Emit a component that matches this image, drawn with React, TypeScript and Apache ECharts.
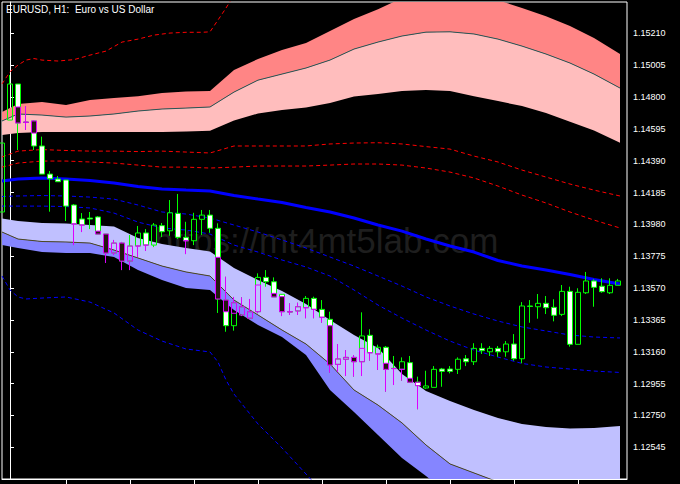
import React, { useEffect, useRef } from 'react';
import * as echarts from 'echarts';

// ---- Price axis ----
const PRICE_TICKS = [1.15210, 1.15005, 1.14800, 1.14595, 1.14390, 1.14185, 1.13980, 1.13775, 1.13570, 1.13365, 1.13160, 1.12955, 1.12750, 1.12545];
const Y_MIN = 1.12341;
const Y_MAX = 1.15412;
// bar index positions (bar -1 is the partially visible one at the left edge)
const X_MIN = -1;
const X_MAX = 77.125;
const TIME_TICKS = [7, 15, 23, 31, 39, 47, 55, 63, 71];

// ---- Candles (bar index = i - 1) ----
const OPEN = [1.14060, 1.14652, 1.14884, 1.14639, 1.14646, 1.14485, 1.14304, 1.14272, 1.14266, 1.14105, 1.14015, 1.14021, 1.14028, 1.13918, 1.13796, 1.13860, 1.13744, 1.13841, 1.13925, 1.13847, 1.13972, 1.13939, 1.14051, 1.13897, 1.13875, 1.14013, 1.14040, 1.13955, 1.13493, 1.13328, 1.13397, 1.13376, 1.13418, 1.13639, 1.13611, 1.13530, 1.13418, 1.13423, 1.13444, 1.13504, 1.13433, 1.13369, 1.13079, 1.13112, 1.13124, 1.13096, 1.13266, 1.13146, 1.13189, 1.13054, 1.13047, 1.13090, 1.12964, 1.12927, 1.12931, 1.13049, 1.13049, 1.13047, 1.13115, 1.13096, 1.13182, 1.13160, 1.13182, 1.13160, 1.13210, 1.13115, 1.13455, 1.13450, 1.13472, 1.13446, 1.13401, 1.13549, 1.13208, 1.13540, 1.13616, 1.13582, 1.13540, 1.13588];
const CLOSE = [1.14504, 1.14884, 1.14633, 1.14637, 1.14485, 1.14304, 1.14274, 1.14255, 1.14098, 1.13983, 1.13976, 1.14015, 1.13918, 1.13796, 1.13860, 1.13744, 1.13841, 1.13925, 1.13847, 1.13976, 1.13933, 1.14055, 1.13897, 1.13875, 1.14013, 1.14040, 1.13955, 1.13500, 1.13328, 1.13476, 1.13450, 1.13418, 1.13639, 1.13611, 1.13513, 1.13418, 1.13416, 1.13450, 1.13504, 1.13433, 1.13382, 1.13075, 1.13114, 1.13124, 1.13096, 1.13262, 1.13154, 1.13189, 1.13047, 1.13052, 1.13096, 1.12964, 1.12942, 1.12940, 1.13047, 1.13034, 1.13034, 1.13112, 1.13096, 1.13182, 1.13167, 1.13182, 1.13160, 1.13210, 1.13115, 1.13455, 1.13452, 1.13472, 1.13444, 1.13395, 1.13549, 1.13208, 1.13543, 1.13616, 1.13575, 1.13547, 1.13588, 1.13616];
const LOW = [1.14060, 1.14652, 1.14459, 1.14588, 1.14459, 1.14304, 1.14062, 1.14253, 1.14002, 1.13847, 1.13931, 1.13950, 1.13918, 1.13732, 1.13783, 1.13686, 1.13686, 1.13770, 1.13809, 1.13834, 1.13899, 1.13907, 1.13886, 1.13789, 1.13847, 1.13912, 1.13926, 1.13410, 1.13289, 1.13296, 1.13390, 1.13369, 1.13408, 1.13579, 1.13513, 1.13390, 1.13397, 1.13397, 1.13376, 1.13376, 1.13347, 1.13025, 1.13030, 1.13004, 1.13000, 1.13004, 1.13103, 1.13043, 1.12903, 1.12946, 1.12974, 1.12964, 1.12790, 1.12922, 1.12931, 1.12935, 1.13021, 1.13017, 1.13068, 1.13075, 1.13146, 1.13133, 1.13128, 1.13128, 1.13103, 1.13086, 1.13347, 1.13373, 1.13403, 1.13356, 1.13390, 1.13193, 1.13208, 1.13532, 1.13450, 1.13540, 1.13532, 1.13588];
const HIGH = [1.14504, 1.14942, 1.14884, 1.14742, 1.14652, 1.14545, 1.14324, 1.14292, 1.14266, 1.14111, 1.14053, 1.14060, 1.14034, 1.13918, 1.13880, 1.13867, 1.13912, 1.13970, 1.13950, 1.13989, 1.13989, 1.14137, 1.14176, 1.13997, 1.14055, 1.14073, 1.14073, 1.13987, 1.13643, 1.13513, 1.13511, 1.13500, 1.13665, 1.13686, 1.13639, 1.13532, 1.13472, 1.13476, 1.13519, 1.13515, 1.13493, 1.13418, 1.13210, 1.13171, 1.13139, 1.13414, 1.13305, 1.13206, 1.13197, 1.13133, 1.13124, 1.13133, 1.13000, 1.13038, 1.13068, 1.13056, 1.13068, 1.13124, 1.13139, 1.13215, 1.13215, 1.13197, 1.13197, 1.13229, 1.13274, 1.13480, 1.13493, 1.13532, 1.13519, 1.13498, 1.13590, 1.13579, 1.13569, 1.13674, 1.13627, 1.13633, 1.13633, 1.13629];

// Magenta painted parts: [bar, open, close, low, high]
const MAGENTA_BARS = [
  [1, 1.14736, 1.14633, 1.14633, 1.14736],
  [2, 1.14639, 1.14637, 1.14588, 1.14742],
  [3, 1.14646, 1.14568, 1.14568, 1.14652],
  [8, 1.13983, 1.13983, 1.13847, 1.13983],
  [9, 1.13976, 1.13976, 1.13931, 1.13976],
  [11, 1.13937, 1.13918, 1.13918, 1.13937],
  [12, 1.13918, 1.13796, 1.13732, 1.13918],
  [13, 1.13796, 1.13860, 1.13783, 1.13880],
  [14, 1.13860, 1.13744, 1.13686, 1.13867],
  [15, 1.13744, 1.13841, 1.13686, 1.13841],
  [16, 1.13841, 1.13841, 1.13770, 1.13841],
  [17, 1.13847, 1.13847, 1.13809, 1.13847],
  [22, 1.13875, 1.13875, 1.13789, 1.13875],
  [26, 1.13768, 1.13500, 1.13500, 1.13768],
  [27, 1.13493, 1.13418, 1.13418, 1.13643],
  [28, 1.13408, 1.13476, 1.13408, 1.13513],
  [29, 1.13397, 1.13450, 1.13390, 1.13511],
  [30, 1.13376, 1.13418, 1.13369, 1.13500],
  [31, 1.13418, 1.13590, 1.13408, 1.13590],
  [33, 1.13536, 1.13513, 1.13513, 1.13536],
  [34, 1.13515, 1.13418, 1.13390, 1.13515],
  [35, 1.13418, 1.13416, 1.13397, 1.13472],
  [36, 1.13423, 1.13450, 1.13397, 1.13476],
  [37, 1.13444, 1.13444, 1.13376, 1.13444],
  [38, 1.13433, 1.13433, 1.13376, 1.13433],
  [39, 1.13382, 1.13382, 1.13347, 1.13382],
  [40, 1.13328, 1.13075, 1.13025, 1.13328],
  [41, 1.13079, 1.13114, 1.13030, 1.13210],
  [42, 1.13112, 1.13124, 1.13004, 1.13171],
  [43, 1.13124, 1.13096, 1.13000, 1.13139],
  [44, 1.13096, 1.13182, 1.13004, 1.13182],
  [45, 1.13154, 1.13154, 1.13103, 1.13154],
  [46, 1.13146, 1.13146, 1.13043, 1.13146],
  [47, 1.13086, 1.13047, 1.12903, 1.13086],
  [48, 1.13052, 1.13052, 1.12946, 1.13052],
  [49, 1.13047, 1.13047, 1.12974, 1.13047],
  [50, 1.12989, 1.12964, 1.12964, 1.12989],
  [51, 1.12942, 1.12964, 1.12790, 1.12964],
];

// ---- Indicator curves sampled at these bar positions ----
const BAND_K = [-1, 1, 4, 7, 10, 13, 16, 19, 22, 25, 28, 31, 34, 37, 40, 43, 46, 49, 52, 55, 58, 61, 64, 67, 70, 73, 76.25];
const UPPER_OUTER = [1.14703, 1.14755, 1.14768, 1.14749, 1.14781, 1.14794, 1.14806, 1.14826, 1.14835, 1.14839, 1.14974, 1.15045, 1.15103, 1.15148, 1.15225, 1.15302, 1.15366, 1.15437, 1.15476, 1.15489, 1.15476, 1.15424, 1.15373, 1.15321, 1.15257, 1.15180, 1.15077];
const UPPER_MID = [1.14646, 1.14691, 1.14684, 1.14671, 1.14678, 1.14691, 1.14710, 1.14723, 1.14729, 1.14736, 1.14832, 1.14909, 1.14948, 1.14987, 1.15038, 1.15109, 1.15154, 1.15193, 1.15218, 1.15220, 1.15206, 1.15173, 1.15128, 1.15077, 1.15019, 1.14948, 1.14858];
const UPPER_INNER = [1.14555, 1.14568, 1.14575, 1.14575, 1.14575, 1.14575, 1.14575, 1.14575, 1.14578, 1.14583, 1.14649, 1.14694, 1.14716, 1.14732, 1.14761, 1.14803, 1.14819, 1.14839, 1.14845, 1.14839, 1.14806, 1.14774, 1.14742, 1.14697, 1.14641, 1.14584, 1.14506];
const LOWER_INNER = [1.14018, 1.14002, 1.13989, 1.13986, 1.13976, 1.13966, 1.13892, 1.13854, 1.13828, 1.13806, 1.13699, 1.13622, 1.13551, 1.13468, 1.13365, 1.13268, 1.13184, 1.13017, 1.12908, 1.12843, 1.12785, 1.12734, 1.12695, 1.12676, 1.12666, 1.12669, 1.12682];
const LOWER_MID = [1.13931, 1.13886, 1.13870, 1.13867, 1.13860, 1.13815, 1.13764, 1.13712, 1.13674, 1.13648, 1.13493, 1.13397, 1.13300, 1.13210, 1.13081, 1.12914, 1.12817, 1.12702, 1.12560, 1.12438, 1.12380, 1.12322, 1.12206, 1.12077, 1.11981, 1.11916, 1.11884];
const LOWER_OUTER = [1.13847, 1.13828, 1.13802, 1.13796, 1.13796, 1.13770, 1.13686, 1.13622, 1.13571, 1.13558, 1.13429, 1.13332, 1.13255, 1.13139, 1.12914, 1.12772, 1.12624, 1.12476, 1.12360, 1.12238, 1.12142, 1.12045, 1.11948, 1.11852, 1.11788, 1.11742, 1.11704];
const MA = [1.14259, 1.14272, 1.14279, 1.14272, 1.14263, 1.14246, 1.14224, 1.14208, 1.14201, 1.14195, 1.14166, 1.14143, 1.14121, 1.14089, 1.14060, 1.14021, 1.13976, 1.13937, 1.13886, 1.13841, 1.13802, 1.13748, 1.13712, 1.13686, 1.13657, 1.13625, 1.13596];
const BLUE_1 = [1.14160, 1.14163, 1.14166, 1.14163, 1.14156, 1.14143, 1.14105, 1.14060, 1.14047, 1.14021, 1.13976, 1.13931, 1.13880, 1.13828, 1.13770, 1.13712, 1.13648, 1.13583, 1.13513, 1.13455, 1.13403, 1.13358, 1.13320, 1.13294, 1.13268, 1.13255, 1.13249];
const BLUE_2 = [1.14098, 1.14098, 1.14098, 1.14095, 1.14086, 1.14053, 1.13995, 1.13957, 1.13944, 1.13918, 1.13847, 1.13802, 1.13751, 1.13706, 1.13648, 1.13558, 1.13461, 1.13377, 1.13300, 1.13229, 1.13171, 1.13126, 1.13085, 1.13062, 1.13049, 1.13036, 1.13027];
const RED_2 = [1.14414, 1.14452, 1.14462, 1.14456, 1.14452, 1.14452, 1.14449, 1.14452, 1.14446, 1.14440, 1.14485, 1.14485, 1.14485, 1.14485, 1.14498, 1.14504, 1.14506, 1.14498, 1.14481, 1.14465, 1.14420, 1.14382, 1.14330, 1.14285, 1.14240, 1.14201, 1.14163];
const RED_1 = [1.14349, 1.14375, 1.14388, 1.14388, 1.14382, 1.14375, 1.14362, 1.14349, 1.14349, 1.14343, 1.14349, 1.14356, 1.14356, 1.14356, 1.14362, 1.14369, 1.14369, 1.14362, 1.14343, 1.14317, 1.14279, 1.14227, 1.14169, 1.14118, 1.14060, 1.14008, 1.13957];
const RED_3_K = [-1, 0, 1, 2, 3, 4, 6, 8, 10, 12, 14, 16, 18, 20, 22, 24, 25, 26, 27, 28];
const RED_3 = [1.14884, 1.14963, 1.15006, 1.15038, 1.15048, 1.15038, 1.15032, 1.15041, 1.15070, 1.15096, 1.15154, 1.15173, 1.15199, 1.15212, 1.15217, 1.15217, 1.15220, 1.15296, 1.15373, 1.15457];
const BLUE_3_K = [-1, 0, 1, 2, 4, 7, 10, 13, 16, 19, 22, 25, 26, 27, 28, 31, 34, 37, 40];
const BLUE_3 = [1.13648, 1.13558, 1.13513, 1.13500, 1.13506, 1.13513, 1.13480, 1.13410, 1.13300, 1.13229, 1.13178, 1.13159, 1.13094, 1.12978, 1.12888, 1.12695, 1.12541, 1.12373, 1.12206];

const TITLE = 'EURUSD, H1:  Euro vs US Dollar';
const WATERMARK = 'https://mt4mt5lab.com';

const BAND_FILLS = [
  { top: UPPER_OUTER, bottom: UPPER_MID, color: '#ff8585' },
  { top: UPPER_MID, bottom: UPPER_INNER, color: '#ffbdbd' },
  { top: LOWER_INNER, bottom: LOWER_MID, color: '#c0c0ff' },
  { top: LOWER_MID, bottom: LOWER_OUTER, color: '#8585ff' },
];

const pairs = (ks: number[], vs: number[]) => ks.map((k, i) => [k, vs[i]]);

function lineSeries(ks: number[], vs: number[], color: string, width: number, dashed: boolean, z = 2) {
  return {
    type: 'line',
    data: pairs(ks, vs),
    showSymbol: false,
    symbol: 'none',
    silent: true,
    z,
    lineStyle: { color, width, type: dashed ? [4, 3] : 'solid' },
  };
}

export default function App() {
  const ref = useRef<HTMLDivElement>(null);
  useEffect(() => {
    const chart = echarts.init(ref.current!, null, { renderer: 'svg' });
    const baseData = OPEN.map((o, i) => [i - 1, o, CLOSE[i], LOW[i], HIGH[i]]);
    const option: any = {
      animation: false,
      backgroundColor: '#000000',
      grid: { left: 2, top: 2, right: 53, bottom: 5, show: true, borderColor: '#ffffff', borderWidth: 1, backgroundColor: 'transparent' },
      xAxis: {
        type: 'value', min: X_MIN, max: X_MAX,
        axisLine: { show: true, lineStyle: { color: '#ffffff', width: 1 } },
        axisTick: { show: true, length: 5, customValues: TIME_TICKS, lineStyle: { color: '#ffffff' } },
        axisLabel: { show: false },
        splitLine: { show: false },
      },
      yAxis: {
        type: 'value', position: 'right', min: Y_MIN, max: Y_MAX, scale: true,
        axisLine: { show: true, lineStyle: { color: '#ffffff', width: 1 } },
        axisTick: { show: true, length: 4, customValues: PRICE_TICKS, lineStyle: { color: '#ffffff' } },
        axisLabel: {
          show: true, customValues: PRICE_TICKS, color: '#ffffff', fontSize: 9, margin: 6,
          fontFamily: '"Liberation Sans", Arial, sans-serif',
          formatter: (v: number) => v.toFixed(5),
        },
        splitLine: { show: false },
      },
      graphic: [
        {
          type: 'text', x: 154, y: 240, z: 0, silent: true,
          style: { text: WATERMARK, fill: '#1e1e1e', font: '35px "Liberation Sans", Arial, sans-serif', verticalAlign: 'middle', align: 'left' },
        },
        {
          type: 'text', x: 6, y: 4, z: 100, silent: true,
          style: { text: TITLE, fill: '#ffffff', font: '10px "Liberation Sans", Arial, sans-serif', verticalAlign: 'top', align: 'left' },
        },
      ],
      series: [
        {
          type: 'custom',
          coordinateSystem: 'cartesian2d',
          silent: true,
          z: 1,
          data: BAND_FILLS.map((_, i) => [i, 1.14]),
          renderItem: (params: any, api: any) => {
            const b = BAND_FILLS[params.dataIndex];
            const pts: number[][] = [];
            for (let i = 0; i < BAND_K.length; i++) pts.push(api.coord([BAND_K[i], b.top[i]]));
            for (let i = BAND_K.length - 1; i >= 0; i--) pts.push(api.coord([BAND_K[i], b.bottom[i]]));
            const cs = params.coordSys;
            return {
              type: 'group',
              clipPath: { type: 'rect', shape: { x: cs.x, y: cs.y, width: cs.width, height: cs.height } },
              children: [{ type: 'polygon', shape: { points: pts }, style: { fill: b.color } }],
            };
          },
        },
        lineSeries(BAND_K, UPPER_MID, '#2a5555', 1, false, 2),
        lineSeries(BAND_K, LOWER_MID, '#4d4822', 1, false, 2),
        lineSeries(RED_3_K, RED_3, '#ff0000', 1, true),
        lineSeries(BAND_K, RED_2, '#ff0000', 1, true),
        lineSeries(BAND_K, RED_1, '#ff0000', 1, true),
        lineSeries(BAND_K, BLUE_1, '#0000ff', 1, true),
        lineSeries(BAND_K, BLUE_2, '#0000ff', 1, true),
        lineSeries(BLUE_3_K, BLUE_3, '#0000ff', 1, true),
        lineSeries(BAND_K, MA, '#0000ff', 3, false),
        {
          type: 'candlestick',
          data: baseData,
          barWidth: 5,
          silent: true,
          z: 3,
          itemStyle: {
            color: 'rgba(0,0,0,0)', color0: '#ffffff',
            borderColor: '#00ff00', borderColor0: '#00ff00', borderColorDoji: '#00ff00', borderWidth: 1,
          },
        },
        {
          type: 'candlestick',
          data: MAGENTA_BARS,
          barWidth: 5,
          silent: true,
          z: 4,
          itemStyle: {
            color: 'rgba(0,0,0,0)', color0: '#231810',
            borderColor: '#dd00ff', borderColor0: '#dd00ff', borderColorDoji: '#dd00ff', borderWidth: 1,
          },
        },
      ],
    };
    chart.setOption(option);
    return () => chart.dispose();
  }, []);
  return <div ref={ref} style={{ position: 'absolute', left: 0, top: 0, width: 680, height: 484 }} />;
}
